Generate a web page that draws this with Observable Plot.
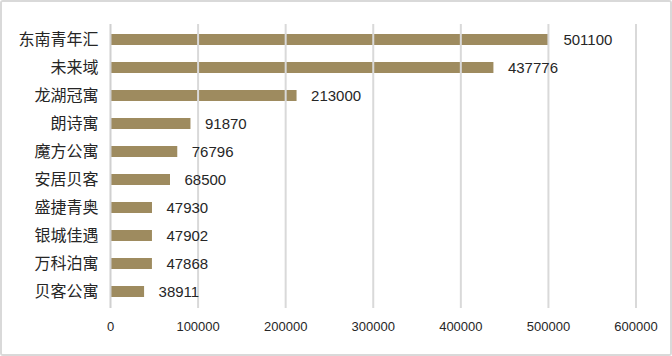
<!DOCTYPE html>
<html><head><meta charset="utf-8">
<script src="https://cdn.jsdelivr.net/npm/d3@7"></script>
<script src="https://cdn.jsdelivr.net/npm/@observablehq/plot@0.6"></script>
<style>
html,body{margin:0;padding:0;background:#fff;}
#wrap{width:668px;height:352px;border:2px solid #d9d9d9;border-radius:3px;overflow:hidden;background:#fff;}
</style>
</head><body>
<div id="wrap"></div>
<script>
const names = ["东南青年汇","未来域","龙湖冠寓","朗诗寓","魔方公寓","安居贝客","盛捷青奥","银城佳遇","万科泊寓","贝客公寓"];
const values = [501100,437776,213000,91870,76796,68500,47930,47902,47868,38911];
const xTicks = [0,100000,200000,300000,400000,500000,600000];
const data = names.map((n,i)=>({name:n, value:values[i]}));

const chart = Plot.plot({
  width: 668, height: 352,
  marginLeft: 108, marginRight: 34.5, marginTop: 22, marginBottom: 46,
  x: {domain:[0,600000], ticks: xTicks, tickFormat: d=>String(d), label: null, tickSize: 0, tickPadding: 13},
  y: {domain: names, label: null, tickSize: 0, tickPadding: 12, paddingInner: 0.6, paddingOuter: 0.3},
  style: {fontFamily: "Liberation Sans, sans-serif", color: "#262626", background: "#fff"},
  marks: [
    Plot.barX(data, {y:"name", x:"value", fill:"#9e8b5f"}),
    Plot.ruleX(xTicks.slice(1), {stroke:"#d9d9d9", strokeWidth:2}),
    Plot.ruleX([0], {stroke:"#d0d0d0", strokeWidth:2}),
    Plot.text(data, {y:"name", x:"value", text: d=>String(d.value), dx: 14, textAnchor:"start", fontSize: 15, fill:"#262626"}),
    Plot.axisX({ticks: xTicks, tickFormat: d=>String(d), tickSize:0, tickPadding:13, fontSize: 13, label:null}),
    Plot.axisY({tickSize:0, tickPadding:12, fontSize:16, fontFamily:"Noto Sans CJK SC", label:null})
  ]
});
chart.querySelectorAll("g[aria-label='x-axis tick label'] text, g[aria-label='x-axis tick label']").forEach(e=>e.setAttribute("font-size","13"));
document.getElementById("wrap").appendChild(chart);
</script>
</body></html>
